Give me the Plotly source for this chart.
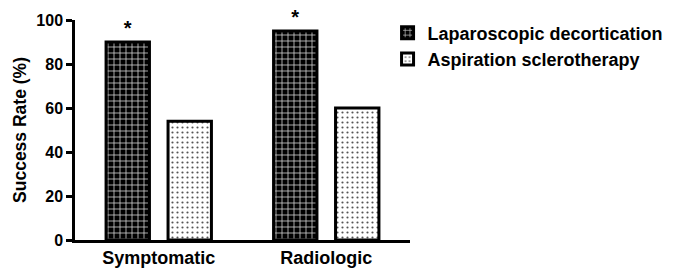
import plotly.graph_objects as go

categories = ["Symptomatic", "Radiologic"]
laparoscopic = [90, 95]
aspiration = [54, 60]
significance = ["*", "*"]
y_ticks = [0, 20, 40, 60, 80, 100]

font_family = "Liberation Sans, Arial, sans-serif"

fig = go.Figure()
fig.add_trace(go.Bar(
    name="Laparoscopic decortication",
    x=categories, y=laparoscopic,
    text=significance, textposition="outside",
    textfont=dict(size=20, color="black", family=font_family, weight="bold"),
    cliponaxis=False,
    marker=dict(
        color="black",
        line=dict(color="black", width=3),
        pattern=dict(shape="+", bgcolor="black", fgcolor="#d0d0d0",
                     size=6, solidity=0.25, fillmode="replace"),
    ),
))
fig.add_trace(go.Bar(
    name="Aspiration sclerotherapy",
    x=categories, y=aspiration,
    marker=dict(
        color="white",
        line=dict(color="black", width=3),
        pattern=dict(shape=".", bgcolor="white", fgcolor="#555555",
                     size=5, solidity=0.15, fillmode="replace"),
    ),
))

fig.update_layout(
    width=683, height=272,
    margin=dict(l=75, r=273, t=20, b=32, autoexpand=False),
    paper_bgcolor="white", plot_bgcolor="white",
    barmode="group", bargap=0.26, bargroupgap=0.3,
    font=dict(family=font_family, color="black", size=16, weight="bold"),
    showlegend=True,
    hovermode=False,
    legend=dict(x=0.933, y=1.025, xanchor="left", yanchor="top",
                font=dict(size=18, family=font_family, weight="bold"),
                tracegroupgap=6, itemwidth=30, bgcolor="rgba(0,0,0,0)"),
    xaxis=dict(
        range=[-0.5, 1.5], showline=True, linecolor="black", linewidth=2.5,
        ticks="", showgrid=False, zeroline=False, automargin=False,
        tickfont=dict(size=18, family=font_family, weight="bold"),
    ),
    yaxis=dict(
        range=[0, 100], tickvals=y_ticks, showline=True, linecolor="black",
        linewidth=2.5, ticks="outside", ticklen=6, tickwidth=2.5,
        tickcolor="black", showgrid=False, zeroline=False, automargin=False,
        tickfont=dict(size=16, family=font_family, weight="bold"),
        title=dict(text="Success Rate (%)", standoff=6,
                   font=dict(size=17.5, family=font_family, weight="bold")),
    ),
)

fig.write_html(
    "out.html",
    config={"displayModeBar": False},
    post_script="document.body.style.margin='0';document.body.style.overflow='hidden';",
)
